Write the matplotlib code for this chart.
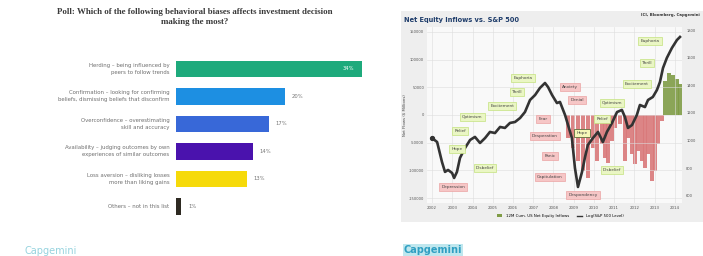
import matplotlib
matplotlib.use("Agg")
import matplotlib.pyplot as plt
from matplotlib.patches import Rectangle, Patch
from matplotlib.lines import Line2D

# ---------- DATOS: encuesta ----------
poll_labels = [
    "Herding – being influenced by\npeers to follow trends",
    "Confirmation – looking for confirming\nbeliefs, dismissing beliefs that disconfirm",
    "Overconfidence – overestimating\nskill and accuracy",
    "Availability – judging outcomes by own\nexperiences of similar outcomes",
    "Loss aversion – disliking losses\nmore than liking gains",
    "Others – not in this list",
]
poll_values = [34, 20, 17, 14, 13, 1]
poll_colors = ["#1eaa7c", "#1d8fe2", "#3868d8", "#4a12ad", "#f6da0a", "#2e2a22"]

# ---------- DATOS: flujos vs S&P 500 ----------
sp_years = [2002.00, 2002.25, 2002.49, 2002.64, 2002.79, 2002.99, 2003.09, 2003.23, 2003.38,
            2003.63, 2003.88, 2004.12, 2004.37, 2004.62, 2004.86, 2005.11, 2005.36, 2005.60,
            2005.85, 2006.10, 2006.35, 2006.59, 2006.84, 2007.09, 2007.33, 2007.58, 2007.73,
            2007.93, 2008.17, 2008.32, 2008.57, 2008.72, 2008.91, 2009.06, 2009.21, 2009.41,
            2009.56, 2009.70, 2009.95, 2010.20, 2010.44, 2010.64, 2010.89, 2011.14, 2011.38,
            2011.53, 2011.68, 2011.88, 2012.12, 2012.27, 2012.52, 2012.67, 2012.91, 2013.11,
            2013.26, 2013.41, 2013.60, 2013.85, 2014.10, 2014.25]
sp_level = [1019, 990, 846, 774, 788, 766, 730, 774, 875,
            947, 1005, 1027, 983, 1019, 1063, 1055, 1099, 1092,
            1128, 1135, 1164, 1207, 1294, 1330, 1381, 1417, 1388,
            1330, 1272, 1280, 1186, 1113, 1019, 802, 665, 774,
            882, 969, 1019, 1063, 990, 1063, 1128, 1207, 1222,
            1171, 1092, 1113, 1186, 1258, 1243, 1294, 1316, 1366,
            1424, 1525, 1598, 1670, 1728, 1750]

flow_years = [2008.72, 2008.96, 2009.21, 2009.46, 2009.70, 2009.95, 2010.15, 2010.40, 2010.54,
              2010.69, 2010.89, 2011.04, 2011.28, 2011.53, 2011.68, 2011.88, 2012.02, 2012.17,
              2012.37, 2012.52, 2012.67, 2012.86, 2013.01, 2013.16, 2013.36, 2013.51, 2013.70,
              2013.90, 2014.10, 2014.25]
flow_values = [-41500, -59600, -83000, -101100, -113700, -59600, -83000, -52300, -77600,
               -86600, -46900, -23500, -16200, -83000, -41500, -70400, -88400, -65000,
               -83000, -95700, -70400, -119100, -101100, -52300, -10800, 61400, 75800,
               72200, 65000, 56000]

year_ticks = list(range(2002, 2015))
flow_ticks = [-150000, -100000, -50000, 0, 50000, 100000, 150000]
sp_ticks = [600, 800, 1000, 1200, 1400, 1600, 1800]

# etiquetas del ciclo emocional: (texto, año, nivel, tipo)
cycle_labels = [
    ("Depression", 2003.04, 665, "neg"),
    ("Disbelief", 2004.62, 802, "pos"),
    ("Hope", 2003.23, 940, "pos"),
    ("Relief", 2003.38, 1070, "pos"),
    ("Optimism", 2003.98, 1171, "pos"),
    ("Excitement", 2005.46, 1251, "pos"),
    ("Thrill", 2006.20, 1352, "pos"),
    ("Euphoria", 2006.49, 1453, "pos"),
    ("Anxiety", 2008.81, 1388, "neg"),
    ("Denial", 2009.16, 1294, "neg"),
    ("Fear", 2007.48, 1157, "neg"),
    ("Desperation", 2007.58, 1034, "neg"),
    ("Panic", 2007.83, 889, "neg"),
    ("Capitulation", 2007.83, 737, "neg"),
    ("Despondency", 2009.46, 607, "neg"),
    ("Hope", 2009.41, 1055, "hope"),
    ("Disbelief", 2010.89, 788, "pos"),
    ("Relief", 2010.40, 1157, "pos"),
    ("Optimism", 2010.89, 1272, "pos"),
    ("Excitement", 2012.12, 1410, "pos"),
    ("Thrill", 2012.62, 1562, "pos"),
    ("Euphoria", 2012.77, 1721, "pos"),
]

W, H = 703, 256


def caja(x0, y0, x1, y1):
    """Convierte una caja en píxeles (arriba-izquierda) a fracciones de figura."""
    return [x0 / W, 1 - y1 / H, (x1 - x0) / W, (y1 - y0) / H]


fig = plt.figure(figsize=(7.03, 2.56), dpi=100)
fig.patch.set_facecolor("white")

# ---------- GRÁFICO IZQUIERDO ----------
fig.text(195 / W, 1 - 17 / H,
         "Poll: Which of the following behavioral biases affects investment decision\nmaking the most?",
         ha="center", va="center", fontsize=6.4, fontweight="bold", family="Liberation Serif",
         color="#3a3a3a", linespacing=1.5)

ax1 = fig.add_axes(caja(176, 55, 384, 220))
ypos = list(range(len(poll_values)))
ax1.barh(ypos, poll_values, height=0.6, color=poll_colors, edgecolor="none")
ax1.set_xlim(0, 38)
ax1.set_ylim(len(poll_values) - 0.5, -0.5)
for y, v, lab in zip(ypos, poll_values, poll_labels):
    if v == max(poll_values):
        ax1.text(v - 1.5, y, f"{v}%", ha="right", va="center", fontsize=3.8, color="white")
    else:
        ax1.text(v + 1.2, y, f"{v}%", ha="left", va="center", fontsize=3.8, color="#777777")
    ax1.text(-1.2, y, lab, ha="right", va="center", fontsize=3.9, color="#707070",
             linespacing=1.6)
ax1.axis("off")

fig.text(24 / W, 1 - 251 / H, "Capgemini", fontsize=7, color="#7cc8d6", va="center",
         alpha=0.8)

# ---------- GRÁFICO DERECHO ----------
fig.add_artist(Rectangle((401 / W, 1 - 222 / H), 302 / W, 211 / H, transform=fig.transFigure,
                         facecolor="#eeeeee", edgecolor="none", zorder=0))
fig.text(404 / W, 1 - 20 / H, "Net Equity Inflows vs. S&P 500", fontsize=4.8,
         fontweight="bold", color="#1f3d6b", va="center")
fig.text(700 / W, 1 - 15 / H, "ICI, Bloomberg, Capgemini", fontsize=2.8, fontweight="bold",
         color="#333333", ha="right", va="center")

ax2 = fig.add_axes(caja(427, 27, 682, 203))
ax2.set_facecolor("#f9f9f9")
bar_colors = ["#d9797a" if v < 0 else "#7f9c46" for v in flow_values]
ax2.bar(flow_years, flow_values, width=0.22, color=bar_colors, edgecolor="none", alpha=0.9)
ax2.set_xlim(2001.75, 2014.35)
ax2.set_ylim(-159000, 159000)
ax2.set_xticks(year_ticks)
ax2.set_xticklabels([str(y) for y in year_ticks], fontsize=2.8, color="#555555")
ax2.set_yticks(flow_ticks)
ax2.set_yticklabels([str(t) for t in flow_ticks], fontsize=2.6, color="#555555")
ax2.set_ylabel("Net Flows ($ Millions)", fontsize=2.8, color="#444444", labelpad=2)
ax2.tick_params(length=0, pad=2)
ax2.grid(color="#dddddd", linewidth=0.4)
for s in ax2.spines.values():
    s.set_visible(False)

ax3 = ax2.twinx()
ax3.plot(sp_years, sp_level, color="#333333", linewidth=1.9, zorder=3)
ax3.plot(sp_years[0], sp_level[0], "o", color="#333333", markersize=2.8, zorder=3)
ax3.set_ylim(549, 1822)
ax3.set_yticks(sp_ticks)
ax3.set_yticklabels([str(t) for t in sp_ticks], fontsize=2.6, color="#555555")
ax3.tick_params(length=0, pad=3)
for s in ax3.spines.values():
    s.set_visible(False)

estilos = {
    "pos": dict(boxstyle="square,pad=0.5", facecolor="#eaf6c4", edgecolor="#c4e27e", linewidth=0.5),
    "neg": dict(boxstyle="square,pad=0.5", facecolor="#f6c6c6", edgecolor="#eba3a3", linewidth=0.5),
    "hope": dict(boxstyle="square,pad=0.5", facecolor="#f4f7b8", edgecolor="#5d6b3a", linewidth=0.6),
}
for txt, yr, lvl, tipo in cycle_labels:
    ax3.text(yr, lvl, txt, ha="center", va="center", fontsize=3.1, color="#444444",
             bbox=estilos[tipo], zorder=5)

handles = [Patch(facecolor="#7f9c46", edgecolor="none"),
           Line2D([0], [0], color="#333333", linewidth=1)]
fig.legend(handles, ["12M Cum. US Net Equity Inflows", "Log(S&P 500 Level)"],
           loc="center", bbox_to_anchor=(560 / W, 1 - 216 / H), ncol=2, frameon=False,
           fontsize=2.8, handlelength=1.5, columnspacing=2)

fig.text(404 / W, 1 - 250 / H, "Capgemini", fontsize=7, color="#2f9fc2", va="center",
         fontweight="bold", bbox=dict(boxstyle="square,pad=0.1", facecolor="#bfe7ee",
                                      edgecolor="none"))

fig.savefig("out.png", dpi=100)
